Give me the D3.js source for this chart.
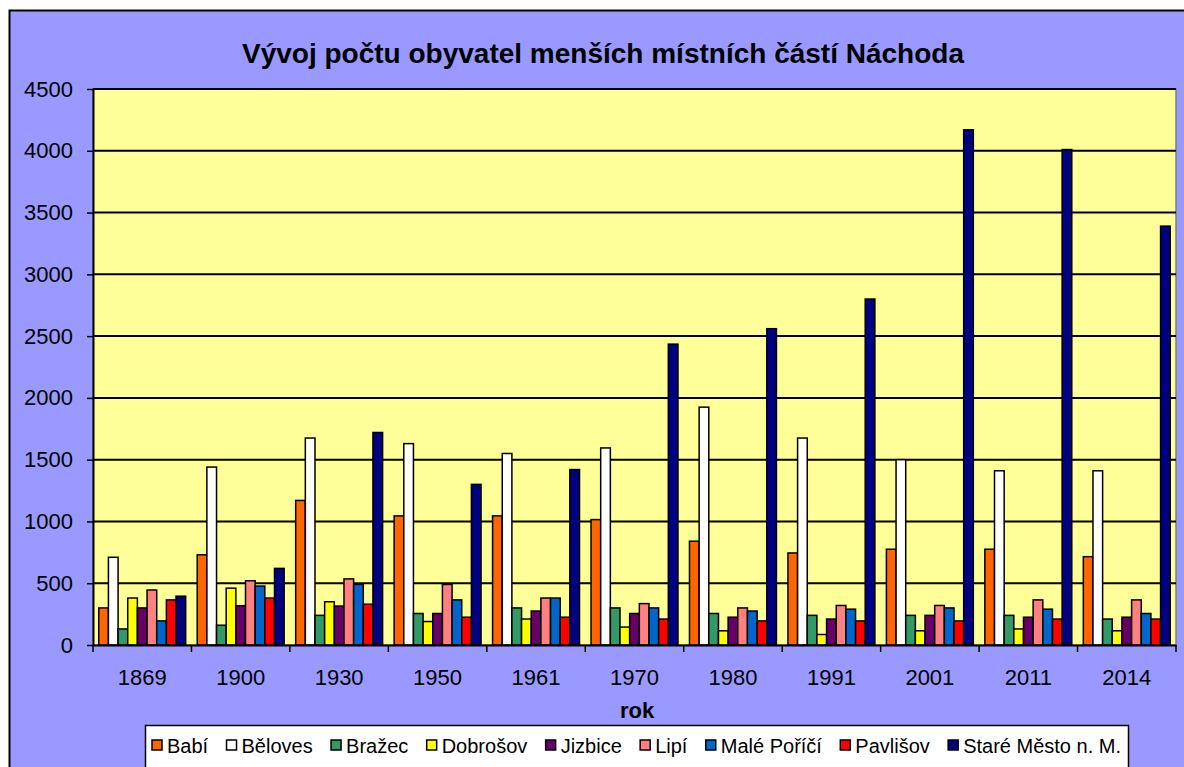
<!DOCTYPE html>
<html>
<head>
<meta charset="utf-8">
<script src="https://cdn.jsdelivr.net/npm/d3@7"></script>
<style>
  html, body { margin: 0; padding: 0; background: #fff; }
  svg { display: block; font-family: Arial, "Liberation Sans", sans-serif; }
</style>
</head>
<body>
<svg id="chart" width="1184" height="767"></svg>
<script>
// data
const years = ["1869", "1900", "1930", "1950", "1961", "1970", "1980", "1991", "2001", "2011", "2014"];
const seriesNames = ["Babí", "Běloves", "Bražec", "Dobrošov", "Jizbice", "Lipí", "Malé Poříčí", "Pavlišov", "Staré Město n. M."];
const seriesColors = ["#ff6600", "#ffffff", "#339966", "#ffff00", "#660066", "#ff8080", "#0066cc", "#ff0000", "#000080"];

const babi      = [300, 730, 1170, 1045, 1045, 1015, 840, 745, 775, 775, 715];
const beloves   = [710, 1440, 1675, 1630, 1550, 1595, 1925, 1675, 1500, 1410, 1410];
const brazec    = [130, 160, 240, 255, 300, 300, 255, 240, 240, 240, 210];
const dobrosov  = [380, 460, 350, 190, 210, 145, 115, 85, 115, 130, 115];
const jizbice   = [300, 318, 315, 255, 275, 255, 225, 210, 240, 225, 225];
const lipi      = [445, 520, 535, 490, 380, 335, 300, 320, 320, 365, 365];
const malePorici = [195, 477, 490, 365, 380, 300, 275, 290, 300, 290, 255];
const pavlisov  = [365, 380, 330, 225, 225, 210, 195, 195, 195, 210, 210];
const stareMesto = [395, 620, 1720, 1300, 1420, 2435, 2560, 2800, 4170, 4010, 3390];

const yTicks = [0, 500, 1000, 1500, 2000, 2500, 3000, 3500, 4000, 4500];

const seriesValues = [babi, beloves, brazec, dobrosov, jizbice, lipi, malePorici, pavlisov, stareMesto];

const svg = d3.select("#chart");

// outer chart area
svg.append("rect")
    .attr("x", 9.5).attr("y", 10.5)
    .attr("width", 1190).attr("height", 780)
    .attr("fill", "#9999ff")
    .attr("stroke", "#000").attr("stroke-width", 2);

const plot = { left: 93, top: 89, right: 1176, bottom: 645 };

const x = d3.scaleBand()
    .domain(years)
    .range([plot.left, plot.right])
    .paddingInner(0.117)
    .paddingOuter(0.0585);

const xInner = d3.scaleBand()
    .domain(d3.range(seriesNames.length))
    .range([0, x.bandwidth()]);

const y = d3.scaleLinear()
    .domain([0, 4500])
    .range([plot.bottom, plot.top]);

// plot area
svg.append("rect")
    .attr("x", plot.left).attr("y", plot.top)
    .attr("width", plot.right - plot.left).attr("height", plot.bottom - plot.top)
    .attr("fill", "#ffff99")
    .attr("stroke", "#808080").attr("stroke-width", 1.5);

// gridlines
svg.append("g")
    .selectAll("line")
    .data(yTicks.filter(d => d > 0))
    .join("line")
    .attr("x1", plot.left).attr("x2", plot.right)
    .attr("y1", d => y(d)).attr("y2", d => y(d))
    .attr("stroke", "#000").attr("stroke-width", 2);

// bars
const groups = svg.append("g")
    .selectAll("g")
    .data(years)
    .join("g")
    .attr("transform", d => `translate(${x(d)},0)`);

groups.selectAll("rect")
    .data((yr, i) => seriesValues.map((vals, s) => ({ s, v: vals[i] })))
    .join("rect")
    .attr("x", d => xInner(d.s))
    .attr("y", d => y(d.v))
    .attr("width", xInner.bandwidth())
    .attr("height", d => y(0) - y(d.v))
    .attr("fill", d => seriesColors[d.s])
    .attr("stroke", "#000").attr("stroke-width", 1.5);

// y axis
const yAxis = svg.append("g")
    .attr("transform", `translate(${plot.left},0)`)
    .call(d3.axisLeft(y).tickValues(yTicks).tickFormat(d3.format("d")).tickSize(6).tickPadding(14).tickSizeOuter(0));
yAxis.select(".domain").attr("stroke", "#000").attr("stroke-width", 2);
yAxis.selectAll(".tick line").attr("stroke", "#000").attr("stroke-width", 1.5);
yAxis.selectAll(".tick text")
    .attr("font-size", 22).attr("font-family", "Arial, 'Liberation Sans', sans-serif").attr("fill", "#000");

// x axis
const xAxis = svg.append("g")
    .attr("transform", `translate(0,${plot.bottom})`)
    .call(d3.axisBottom(x).tickSize(0).tickPadding(24));
xAxis.select(".domain").attr("stroke", "#000").attr("stroke-width", 2);
xAxis.selectAll(".tick text")
    .attr("font-size", 22).attr("font-family", "Arial, 'Liberation Sans', sans-serif").attr("fill", "#000");

// category separator ticks
const sepX = years.map(yr => x(yr) - x.step() * x.paddingOuter()).concat([plot.right]);
svg.append("g")
    .selectAll("line")
    .data(sepX)
    .join("line")
    .attr("x1", d => d).attr("x2", d => d)
    .attr("y1", plot.bottom).attr("y2", plot.bottom + 7)
    .attr("stroke", "#000").attr("stroke-width", 1.5);

// title
svg.append("text")
    .attr("x", 603).attr("y", 63)
    .attr("text-anchor", "middle")
    .attr("font-size", 28).attr("font-weight", "bold")
    .text("Vývoj počtu obyvatel menších místních částí Náchoda");

// x axis title
svg.append("text")
    .attr("x", 637).attr("y", 718)
    .attr("text-anchor", "middle")
    .attr("font-size", 22).attr("font-weight", "bold")
    .text("rok");

// legend
const legend = { left: 145, top: 725, right: 1128, bottom: 768 };
svg.append("rect")
    .attr("x", legend.left + 0.5).attr("y", legend.top + 0.5)
    .attr("width", legend.right - legend.left).attr("height", legend.bottom - legend.top)
    .attr("fill", "#fff").attr("stroke", "#000").attr("stroke-width", 1.5);

const legendFont = 20;
const items = svg.append("g");
const labels = seriesNames.map(n => {
    const t = items.append("text")
        .attr("font-size", legendFont)
        .attr("y", 753)
        .text(n);
    return t;
});
const widths = labels.map(t => t.node().getComputedTextLength());
const markerW = 10, markerGap = 5;
const totalText = d3.sum(widths) + seriesNames.length * (markerW + markerGap);
const space = (legend.right - legend.left - 14 - totalText) / (seriesNames.length - 1);
let cx = legend.left + 7;
labels.forEach((t, i) => {
    items.append("rect")
        .attr("x", cx).attr("y", 740)
        .attr("width", markerW).attr("height", markerW)
        .attr("fill", seriesColors[i])
        .attr("stroke", "#000").attr("stroke-width", 1.5);
    t.attr("x", cx + markerW + markerGap);
    cx += markerW + markerGap + widths[i] + space;
});
</script>
</body>
</html>
